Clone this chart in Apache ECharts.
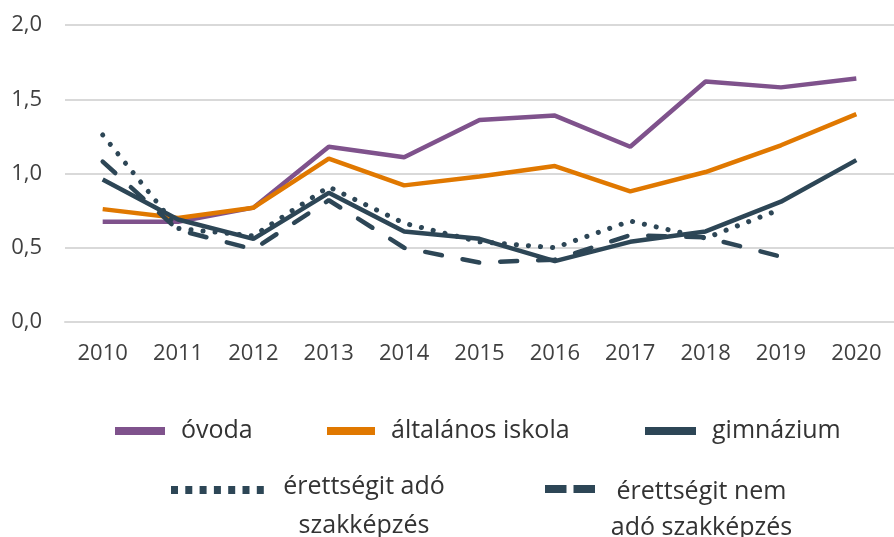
<!DOCTYPE html>
<html>
<head>
    <meta http-equiv=Content-Type content="text/html; charset=utf-8">
    <title>Chart</title>
    <script type="text/javascript" src="https://cdn.jsdelivr.net/npm/echarts@6/dist/echarts.min.js"></script>
    <style>
        html, body { margin: 0; padding: 0; background: #fff; }
        #chartmain { width: 894px; height: 537px; }
    </style>
</head>
<body>
<div id="chartmain"></div>
<script type="text/javascript">
    // évek
    var years = ['2010', '2011', '2012', '2013', '2014', '2015', '2016', '2017', '2018', '2019', '2020'];
    // sorozatok
    var ovoda = [0.675, 0.675, 0.77, 1.18, 1.11, 1.36, 1.39, 1.18, 1.62, 1.58, 1.64];
    var altalanos = [0.76, 0.70, 0.77, 1.10, 0.92, 0.98, 1.05, 0.88, 1.01, 1.19, 1.40];
    var gimnazium = [0.96, 0.69, 0.56, 0.87, 0.61, 0.56, 0.41, 0.54, 0.61, 0.81, 1.09];
    var erettsegiAdo = [1.26, 0.63, 0.58, 0.91, 0.665, 0.54, 0.50, 0.68, 0.565, 0.76, null];
    var erettsegiNem = [1.08, 0.62, 0.49, 0.82, 0.50, 0.40, 0.42, 0.585, 0.57, 0.44, null];
    var names = ['óvoda', 'általános iskola', 'gimnázium', 'érettségit adó szakképzés', 'érettségit nem adó szakképzés'];

    var purple = '#7f528c';
    var orange = '#e07800';
    var dark = '#2d4656';
    var font = 'Open Sans';
    var txtColor = '#333333';

    var myChart = echarts.init(document.getElementById('chartmain'));

    // egy jelmagyarázat elem (mindegyik külön pozícióban)
    function legendItem(name, left, top, width, lineType, textStyle, formatter) {
        var lg = {
            data: [name],
            left: left,
            top: top,
            padding: 0,
            itemWidth: width,
            itemHeight: 8,
            itemGap: 0,
            selectedMode: false,
            itemStyle: { opacity: 0 },
            lineStyle: { width: 8, type: lineType, cap: 'butt' },
            textStyle: textStyle
        };
        if (formatter) lg.formatter = formatter;
        return lg;
    }

    var rowText = { fontFamily: font, fontSize: 25, lineHeight: 30, color: txtColor, padding: [0, 0, 0, 11] };

    var option = {
        animation: false,
        grid: { left: 65, top: 25, width: 837, height: 297, containLabel: false },
        legend: [
            legendItem(names[0], 111, 416, 50, 'solid', rowText),
            legendItem(names[1], 323, 416, 48, 'solid', rowText),
            legendItem(names[2], 641, 416, 51, 'solid', rowText),
            legendItem(names[3], 167, 449, 93, [7, 7.3], {
                fontFamily: font, fontSize: 25, color: txtColor,
                rich: {
                    s: { fontSize: 4, lineHeight: 33 },
                    a: { fontFamily: font, fontSize: 25, color: txtColor, width: 190, align: 'center', lineHeight: 39 }
                }
            }, function () { return '{s| }\n{a|érettségit adó}\n{a|szakképzés}'; }),
            legendItem(names[4], 541, 451, 50, [21.5, 7], {
                fontFamily: font, fontSize: 25, color: txtColor,
                rich: {
                    s: { fontSize: 4, lineHeight: 41 },
                    a: { fontFamily: font, fontSize: 25, color: txtColor, width: 203, align: 'center', lineHeight: 36 }
                }
            }, function () { return '{s| }\n{a|érettségit nem}\n{a|adó szakképzés}'; })
        ],
        xAxis: {
            type: 'category',
            data: years,
            boundaryGap: true,
            axisLine: { show: true, lineStyle: { color: '#d9d9d9', width: 2 } },
            axisTick: { show: false },
            axisLabel: { fontFamily: font, fontSize: 22, color: '#404040', margin: 21 }
        },
        yAxis: {
            type: 'value',
            min: 0,
            max: 2,
            interval: 0.5,
            axisLine: { show: false },
            axisTick: { show: false },
            splitLine: { lineStyle: { color: '#d9d9d9', width: 2 } },
            axisLabel: {
                fontFamily: font, fontSize: 22, color: '#404040', margin: 23,
                formatter: function (v) { return v.toFixed(1).replace('.', ','); }
            }
        },
        series: [
            {
                name: names[0], type: 'line', data: ovoda, symbol: 'none',
                itemStyle: { color: purple },
                lineStyle: { color: purple, width: 4.5 }
            },
            {
                name: names[1], type: 'line', data: altalanos, symbol: 'none',
                itemStyle: { color: orange },
                lineStyle: { color: orange, width: 4.5 }
            },
            {
                name: names[3], type: 'line', data: erettsegiAdo, symbol: 'none',
                itemStyle: { color: dark },
                lineStyle: { color: dark, width: 5, type: [0.1, 12], cap: 'round' }
            },
            {
                name: names[4], type: 'line', data: erettsegiNem, symbol: 'none',
                itemStyle: { color: dark },
                lineStyle: { color: dark, width: 4.5, type: [17, 21], cap: 'round' }
            },
            {
                name: names[2], type: 'line', data: gimnazium, symbol: 'none',
                itemStyle: { color: dark },
                lineStyle: { color: dark, width: 4.5 }
            }
        ]
    };
    myChart.setOption(option);
</script>
</body>
</html>
